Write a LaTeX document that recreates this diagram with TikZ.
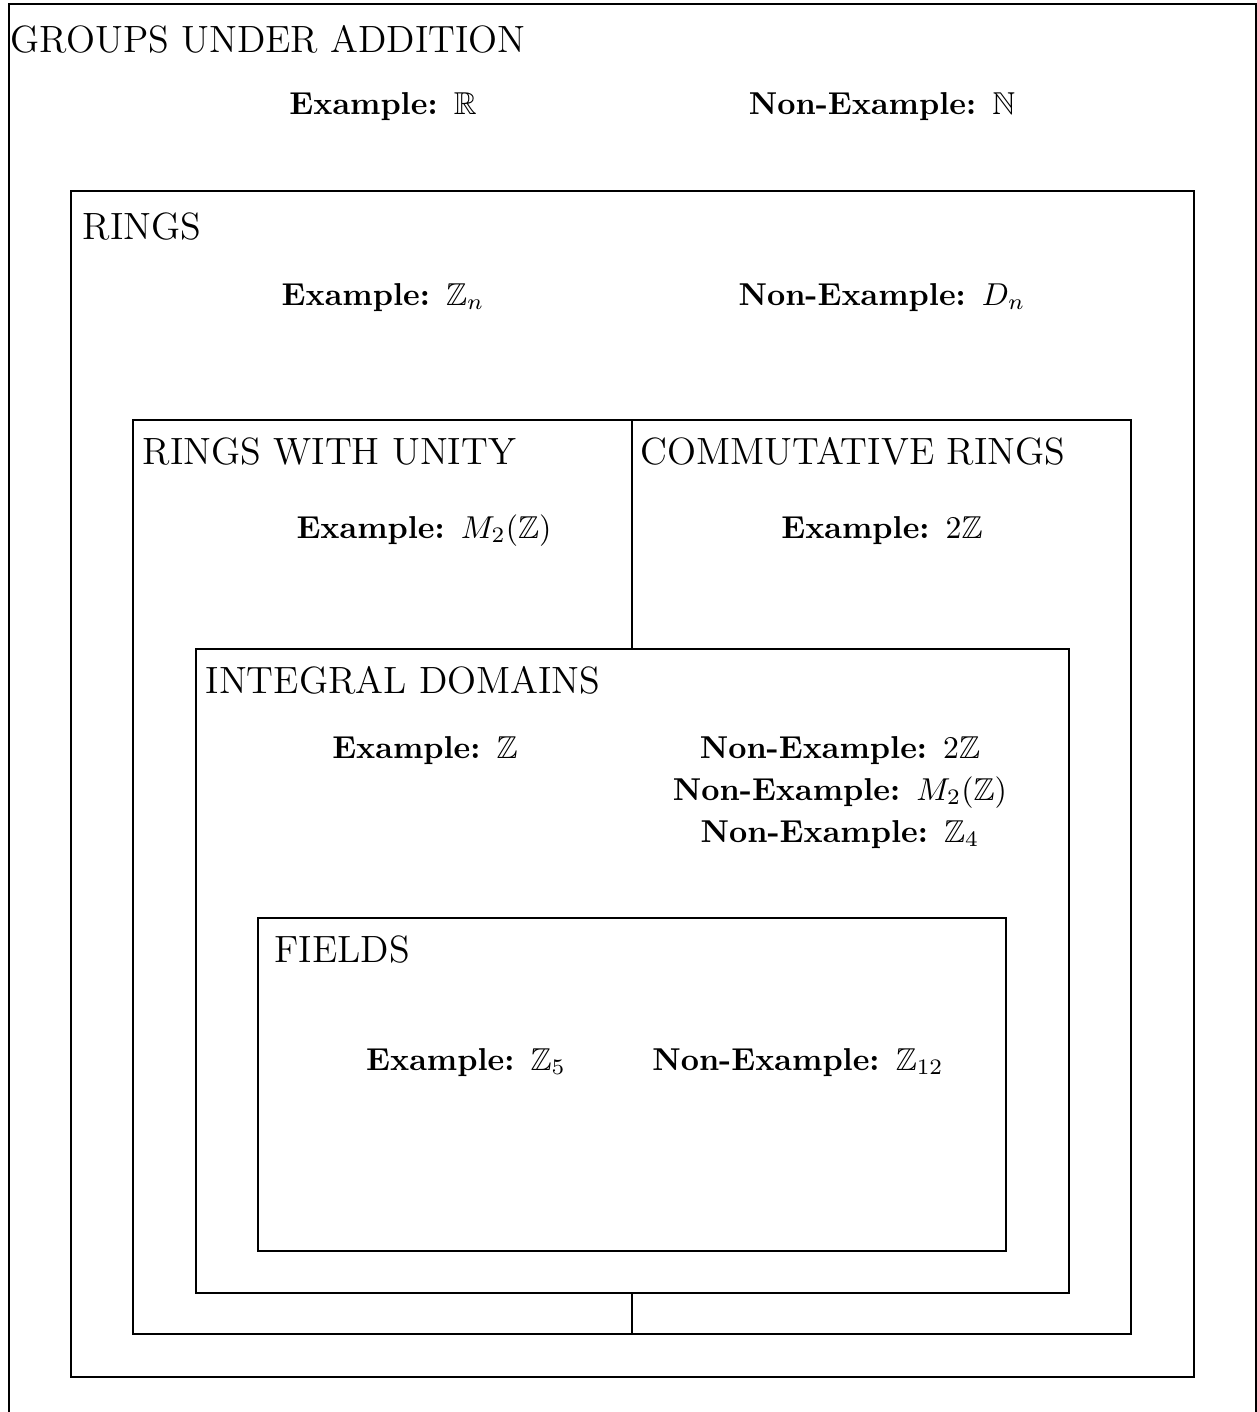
\documentclass[tikz,border=0pt]{standalone}
\usepackage{amsmath,amssymb}
\usepackage{tikz}
\usetikzlibrary{positioning,fit}

\begin{document}
\begin{tikzpicture}[
  x=0.316pt, y=-0.316pt,
  box/.style={draw, inner sep=0pt, line width=0.45pt},
  heading/.style={anchor=base west, font=\large, inner sep=0pt},
  ex/.style={anchor=base, font=\bfseries, inner sep=0pt}
]
\useasboundingbox (0,0) rectangle (1257,1412);
\clip (0,0) rectangle (1257,1412);

% nested boxes
\node[box, fit={(9,4) (1256,1420)}] (groups) {};
\node[box, fit={(71,191) (1194,1377)}] (rings) {};
\node[box, fit={(133,420) (1131,1334)}] (unity) {};
\node[box, fit={(196,649) (1069,1293)}] (domain) {};
\node[box, fit={(258,918) (1006,1251)}] (fields) {};
\draw[line width=0.45pt] (unity.north) -- (unity.north |- domain.north);
\draw[line width=0.45pt] (unity.south |- domain.south) -- (unity.south);

% groups under addition
\node[heading] (gtitle) at (10,52) {GROUPS UNDER ADDITION};
\node[ex] (gex) at (383,114) {Example: $\mathbb{R}$};
\node[ex] (gnon) at (882,114) {Non-Example: $\mathbb{N}$};

% rings
\node[heading] (rtitle) at (82,239) {RINGS};
\node[ex] (rex) at (383,305) {Example: $\mathbb{Z}_n$};
\node[ex] (rnon) at (882,305) {Non-Example: $D_n$};

% rings with unity / commutative rings
\node[heading] (utitle) at (142,464) {RINGS WITH UNITY};
\node[ex] (uex) at (424,538) {Example: $M_2(\mathbb{Z})$};
\node[heading] (ctitle) at (640,464) {COMMUTATIVE RINGS};
\node[ex] (cex) at (882,538) {Example: $2\mathbb{Z}$};

% integral domains
\node[heading] (dtitle) at (205,693) {INTEGRAL DOMAINS};
\node[ex] (dex) at (425,758) {Example: $\mathbb{Z}$};
\node[ex] (dnonA) at (840,758) {Non-Example: $2\mathbb{Z}$};
\node[ex] (dnonB) at (840,800) {Non-Example: $M_2(\mathbb{Z})$};
\node[ex] (dnonC) at (840,842) {Non-Example: $\mathbb{Z}_4$};

% fields
\node[heading] (ftitle) at (274,962) {FIELDS};
\node[ex] (fex) at (466,1070) {Example: $\mathbb{Z}_5$};
\node[ex] (fnon) at (798,1070) {Non-Example: $\mathbb{Z}_{12}$};
\end{tikzpicture}
\end{document}
